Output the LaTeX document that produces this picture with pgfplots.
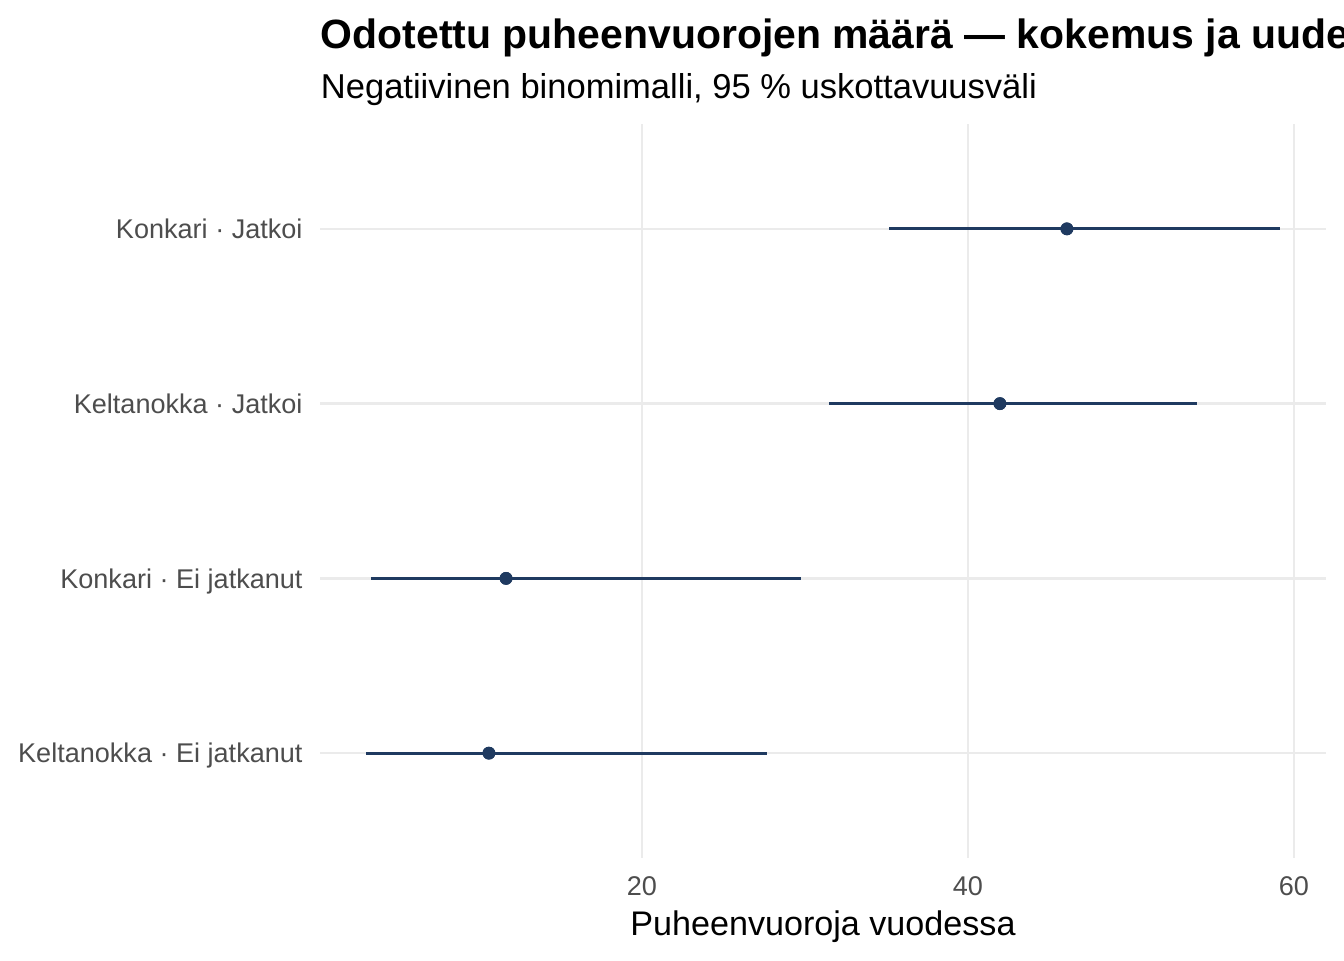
\documentclass[border=0pt]{standalone}
\usepackage{pgfplots}
\pgfplotsset{compat=1.18}
\usepackage{pgfplotstable}
\usepackage{fontspec}
\setmainfont{Liberation Sans}
\definecolor{navy}{HTML}{1F3A60}
\definecolor{gridc}{HTML}{EBEBEB}
\definecolor{tickc}{HTML}{4D4D4D}
\pgfplotstableread{
y est lo hi
4 46.07 35.15 59.14
3 41.96 31.47 54.05
2 11.66 3.37 29.75
1 10.61 3.07 27.67
}\datatable
\begin{document}
\begin{tikzpicture}
\path[use as bounding box, clip] (0,0) rectangle (504pt,360pt);
\begin{axis}[
 at={(120.15pt,38.25pt)}, anchor=south west,
 scale only axis, width=376.95pt, height=275.25pt,
 xmin=0.27, xmax=61.94, ymin=0.4, ymax=4.6,
 axis line style={draw=none}, major tick length=0pt,
 xtick={20,40,60}, ytick={1,2,3,4},
 yticklabels={Keltanokka · Ei jatkanut, Konkari · Ei jatkanut, Keltanokka · Jatkoi, Konkari · Jatkoi},
 grid=major, major grid style={gridc, line width=1pt},
 ticklabel style={font=\fontsize{10.15}{12}\selectfont, text=tickc},
 yticklabel style={anchor=base east, inner sep=0pt, xshift=-6.5pt, yshift=-3.65pt},
 xticklabel style={anchor=north, inner sep=0pt, yshift=-6.6pt},
 /pgf/number format/assume math mode=true,
 xlabel={Puheenvuoroja vuodessa},
 xlabel style={at={(axis description cs:0.5,0)}, anchor=base, inner sep=0pt, yshift=-29.1pt, font=\fontsize{12.8}{15}\selectfont},
 clip=false,
]
\addplot[navy, only marks, mark=*, mark size=2.2pt,
  error bars/.cd, x dir=both, x explicit, error mark=none,
  error bar style={draw=navy, line width=1.2pt, solid}]
  table[x=est, y=y, x error plus expr=\thisrow{hi}-\thisrow{est}, x error minus expr=\thisrow{est}-\thisrow{lo}] {\datatable};
\addplot[navy, only marks, mark=*, mark size=2.2pt] table[x=est, y=y] {\datatable};
\end{axis}
\node[anchor=base west, inner sep=0pt, font=\fontsize{15.35}{18}\selectfont\bfseries] at (120.15pt,342pt) {Odotettu puheenvuorojen määrä — kokemus ja uudelleenvalinta};
\node[anchor=base west, inner sep=0pt, font=\fontsize{12.95}{15}\selectfont] at (120.15pt,323.25pt) {Negatiivinen binomimalli, 95 \% uskottavuusväli};
\end{tikzpicture}
\end{document}
